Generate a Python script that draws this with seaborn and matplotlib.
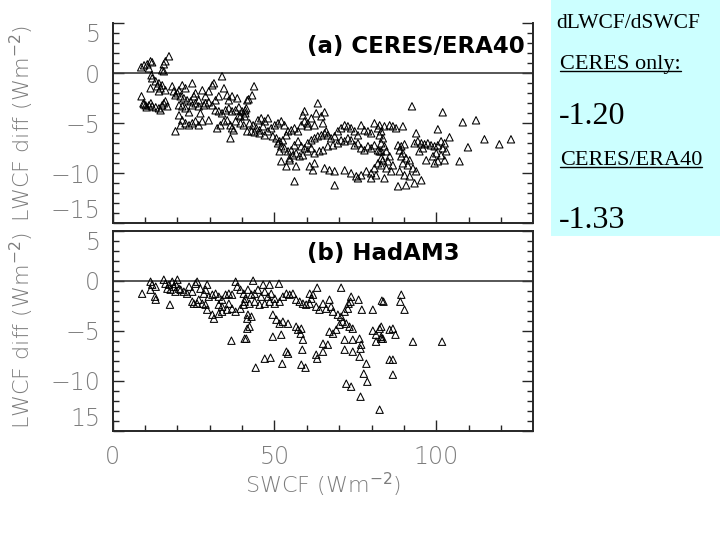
import matplotlib
matplotlib.use('Agg')
import pandas as pd
import seaborn as sns
import matplotlib.pyplot as plt
import matplotlib.lines as mlines
import matplotlib.patches as mpatches
from matplotlib.ticker import MultipleLocator, FixedLocator

# (SWCF, LWCF diff) pairs, Wm-2
era40_points = [
    (8.8, 0.6), (9.7, 0.8), (10.7, 0.9), (11.7, 1.2), (12.2, 1.1), (11.2, 0.5), (15.8, 0.9), (16.3, 1.2),
    (17.4, 1.7), (15.3, 0.3), (15.8, 0.2), (12.2, -0.5), (12.0, -0.2), (13.3, -0.8), (14.3, -1.0), (11.7, -1.5),
    (13.8, -1.3), (14.8, -1.5), (15.3, -1.2), (16.3, -1.7), (14.3, -1.8), (8.9, -2.3), (9.7, -3.1), (10.2, -3.2),
    (11.2, -3.2), (12.2, -3.3), (13.3, -3.4), (14.3, -3.5), (14.8, -3.7), (15.3, -3.2), (15.8, -3.0), (16.3, -2.8),
    (16.9, -3.3), (9.5, -3.0), (10.5, -3.4), (11.8, -3.0), (18.4, -1.3), (18.9, -1.8), (19.4, -2.2), (20.0, -2.0),
    (20.5, -1.7), (21.5, -1.2), (22.5, -1.5), (24.6, -1.0), (21.0, -2.3), (22.0, -2.5), (23.0, -2.7), (24.1, -2.8),
    (25.6, -2.0), (25.1, -2.3), (26.6, -2.7), (27.7, -1.7), (28.7, -2.3), (29.7, -1.8), (30.8, -1.2), (31.3, -1.0),
    (33.8, -0.3), (34.4, -1.5), (32.8, -2.3), (31.8, -2.7), (35.4, -2.2), (35.9, -2.7), (36.9, -2.3), (38.5, -2.5),
    (41.6, -2.7), (20.5, -3.2), (21.5, -3.3), (22.5, -3.5), (23.6, -3.9), (24.6, -3.2), (25.6, -3.0), (26.6, -3.3),
    (27.1, -4.0), (28.2, -3.2), (28.7, -3.0), (29.7, -2.9), (30.8, -3.2), (31.8, -3.7), (32.8, -3.8), (33.8, -4.0),
    (34.9, -3.7), (35.9, -3.5), (36.9, -3.8), (38.0, -3.7), (39.0, -3.4), (40.0, -3.8), (41.0, -3.7), (20.5, -4.2),
    (21.5, -4.7), (22.5, -5.0), (23.6, -5.2), (24.6, -5.0), (25.6, -4.8), (26.6, -5.2), (27.7, -4.8), (29.7, -4.7),
    (21.0, -5.2), (19.4, -5.8), (32.3, -5.5), (33.3, -5.2), (34.4, -4.8), (35.4, -4.7), (36.4, -5.2), (36.9, -5.5),
    (37.4, -5.7), (36.4, -6.5), (38.0, -4.8), (39.5, -5.0), (40.5, -5.2), (41.6, -5.8), (39.5, -4.3), (39.0, -4.2),
    (41.0, -4.0),
    (43.7, -1.3), (43.1, -2.2), (42.0, -2.6), (41.3, -3.5), (40.8, -4.3), (42.3, -5.0), (43.4, -5.2), (44.4, -5.5),
    (45.4, -5.7), (46.5, -5.3), (47.0, -4.8), (48.0, -4.5), (44.9, -4.7), (45.9, -4.5), (42.9, -5.8), (43.9, -5.9),
    (45.4, -6.0), (47.0, -6.2), (48.0, -5.8), (49.0, -5.5), (50.1, -5.2), (51.1, -5.0), (52.1, -4.8), (53.1, -5.2),
    (49.5, -6.3), (50.6, -6.5), (51.6, -6.8), (52.6, -6.7), (53.7, -6.2), (54.2, -5.8), (55.2, -5.7), (56.2, -5.5),
    (57.3, -5.8), (58.3, -5.2), (59.3, -4.8), (60.3, -5.0), (63.4, -3.0), (59.3, -3.8), (58.8, -4.2), (62.9, -4.0),
    (65.5, -3.9), (64.5, -4.3), (61.4, -4.5), (60.3, -5.3), (62.4, -5.2), (65.0, -5.0), (66.0, -5.8), (51.1, -7.0),
    (52.1, -7.3), (53.1, -7.5), (54.2, -7.8), (55.2, -7.7), (56.2, -7.2), (57.3, -6.8), (58.3, -7.3), (59.3, -7.5),
    (60.3, -7.0), (61.4, -6.7), (62.4, -6.5), (63.4, -6.3), (64.5, -6.2), (65.5, -6.0), (66.5, -6.2), (67.5, -6.5),
    (68.6, -6.3), (69.6, -5.8), (70.6, -5.5), (71.7, -5.2), (72.7, -5.3), (73.7, -5.5), (74.8, -5.8), (75.8, -6.2),
    (76.8, -5.2), (77.8, -5.7), (78.9, -5.8), (79.9, -6.0), (80.9, -5.0), (82.0, -5.5), (83.0, -5.8), (51.6, -7.8),
    (54.7, -8.5), (55.7, -8.2), (56.7, -8.0), (57.8, -8.3), (58.8, -8.2), (60.3, -7.8), (61.4, -7.5), (62.4, -8.0),
    (63.9, -7.8), (65.0, -7.7), (66.5, -7.3), (68.1, -7.2), (69.6, -7.0), (70.6, -6.7), (71.7, -6.8), (72.7, -6.5),
    (73.7, -6.7), (74.8, -7.2), (75.8, -7.0), (76.8, -7.5), (77.8, -7.7), (78.9, -7.3), (79.9, -7.5), (80.9, -7.2),
    (82.0, -7.7), (83.0, -7.8), (52.1, -8.8), (53.7, -9.3), (54.7, -8.7), (56.7, -9.3), (60.9, -9.3), (61.9, -9.7),
    (62.4, -9.0), (65.5, -9.5), (67.0, -9.7), (68.6, -9.8), (71.7, -9.7), (73.7, -10.0), (75.3, -10.3), (76.8, -10.2),
    (78.4, -9.8), (79.9, -10.0), (80.9, -9.5), (82.0, -9.0), (83.0, -8.5), (56.2, -10.8), (68.6, -11.2), (75.8, -10.5),
    (79.9, -10.5), (81.4, -10.2),
    (92.5, -3.3), (102.0, -3.9), (108.2, -4.9), (112.3, -4.7), (100.5, -5.6), (104.1, -6.4), (114.9, -6.6),
    (119.5, -7.1), (123.1, -6.6), (109.8, -7.4), (107.2, -8.8), (82.5, -5.2), (84.0, -5.3), (85.6, -5.2),
    (86.6, -5.3), (87.6, -5.5), (89.7, -5.3), (82.5, -6.2), (83.5, -6.5), (83.0, -7.0), (84.0, -7.3), (82.5, -7.8),
    (84.6, -7.8), (85.6, -8.3), (83.5, -8.7), (85.1, -8.8), (86.6, -9.2), (83.0, -9.2), (84.6, -9.5), (86.1, -9.8),
    (84.0, -10.5), (88.2, -7.2), (89.2, -7.3), (90.2, -7.1), (88.7, -7.7), (89.7, -8.0), (90.7, -8.5), (91.8, -8.7),
    (89.2, -8.3), (89.7, -9.0), (91.2, -9.2), (92.8, -9.5), (93.8, -9.8), (88.7, -9.8), (90.2, -10.2), (91.8, -10.3),
    (88.2, -11.3), (90.7, -11.2), (93.3, -11.0), (95.4, -10.7), (93.8, -6.0), (93.3, -7.0), (94.3, -6.8),
    (95.4, -7.0), (96.4, -7.1), (97.4, -7.0), (98.4, -7.2), (99.5, -7.3), (100.5, -7.2), (101.5, -6.8),
    (102.6, -7.0), (102.0, -7.5), (103.1, -7.8), (101.5, -8.2), (100.0, -8.0), (99.0, -8.3), (96.9, -8.7),
    (99.5, -9.0), (100.5, -8.8), (102.6, -8.7), (94.8, -7.8), (95.9, -7.5),
]

hadam3_points = [
    (9.1, -1.3), (11.7, -0.1), (12.2, -0.4), (13.3, -0.6), (11.7, -0.9), (13.1, -1.6), (13.3, -1.9), (15.8, 0.1),
    (16.3, -0.3), (17.4, -0.4), (18.4, -0.1), (18.9, -0.6), (19.4, -0.3), (20.0, 0.1), (20.5, -0.8), (16.9, -0.8),
    (17.9, -0.9), (19.4, -1.1), (21.0, -0.9), (22.0, -1.1), (23.0, -1.3), (23.6, -0.6), (24.6, -1.1), (25.6, -0.3),
    (26.1, -0.1), (17.7, -2.4), (24.6, -2.1), (25.1, -2.3), (26.1, -2.3), (26.6, -1.9), (27.7, -2.3), (28.7, -2.4),
    (29.2, -2.9), (30.8, -3.4), (31.3, -3.8), (32.8, -3.3), (33.8, -3.1), (27.1, -0.8), (28.2, -1.3), (28.7, -0.9),
    (29.2, -0.4), (29.7, -1.6), (30.8, -1.4), (31.8, -1.3), (32.8, -1.6), (33.8, -1.9), (34.9, -1.4), (35.9, -1.3),
    (36.9, -1.4), (38.0, -0.1), (38.5, -0.6), (39.5, -0.9), (40.5, -1.3), (41.0, -1.8), (32.8, -2.4), (33.8, -2.6),
    (35.4, -2.9), (35.9, -2.3), (36.9, -2.8), (38.0, -3.1), (39.5, -2.8), (40.5, -2.4), (41.6, -3.8), (41.6, -4.8),
    (40.8, -5.8), (36.7, -6.0),
    (43.4, 0.0), (46.5, -0.4), (48.5, -0.4), (51.4, -0.3), (63.2, -0.7), (70.6, -0.7), (41.8, -0.9), (42.9, -1.4),
    (43.9, -1.3), (44.9, -0.9), (45.9, -1.6), (47.0, -1.1), (48.0, -1.6), (49.0, -1.3), (50.1, -1.8), (40.8, -2.1),
    (42.3, -2.3), (43.9, -2.1), (45.4, -2.4), (47.0, -2.3), (48.5, -2.1), (50.1, -2.3), (51.6, -2.1), (52.6, -1.6),
    (53.7, -1.3), (54.7, -1.4), (55.7, -1.3), (56.7, -1.9), (57.8, -2.1), (58.8, -2.3), (59.8, -2.4), (60.9, -2.3),
    (61.4, -1.8), (61.9, -1.4), (60.9, -1.3), (62.9, -2.6), (63.9, -2.9), (65.0, -2.3), (66.0, -2.8), (67.0, -1.9),
    (67.5, -2.6), (68.1, -3.1), (69.6, -3.4), (70.6, -3.6), (71.7, -3.1), (72.7, -2.8), (73.7, -1.6), (73.5, -2.1),
    (72.9, -2.3), (76.0, -1.9), (77.0, -2.9), (80.4, -2.9), (83.2, -2.0), (41.8, -3.4), (42.9, -3.6), (42.3, -4.6),
    (41.3, -5.8), (49.5, -3.4), (50.6, -3.9), (51.6, -4.3), (52.6, -4.1), (49.5, -5.6), (52.1, -5.4), (54.2, -4.3),
    (56.7, -4.6), (58.3, -4.8), (57.3, -4.9), (58.1, -5.3), (58.8, -5.9), (58.6, -6.9), (62.9, -7.4), (63.2, -7.8),
    (65.0, -7.1), (66.5, -6.4), (65.0, -6.3), (67.0, -5.1), (68.1, -5.3), (69.1, -4.9), (70.1, -4.4), (71.1, -4.1),
    (72.2, -4.3), (73.2, -4.6), (74.2, -4.8), (71.7, -5.9), (74.2, -5.9), (76.3, -5.8), (71.7, -6.9), (74.2, -7.1),
    (76.6, -6.8), (76.8, -6.4), (76.3, -7.6), (78.4, -8.3), (77.6, -9.3), (78.7, -10.1), (72.2, -10.3), (73.7, -10.6),
    (76.6, -11.6), (82.5, -12.9), (53.7, -7.1), (54.2, -7.3), (47.0, -7.8), (48.8, -7.7), (44.2, -8.7), (52.4, -8.3),
    (58.3, -8.4), (59.6, -8.7), (80.4, -5.0), (81.4, -5.4), (82.5, -4.8), (83.0, -5.8), (81.4, -6.1),
    (83.7, -2.1), (89.2, -1.4), (88.9, -2.1), (90.2, -2.9), (83.0, -4.6), (85.6, -4.9), (86.6, -4.8), (87.4, -5.4),
    (83.5, -5.8), (83.0, -5.6), (92.8, -6.1), (101.8, -6.1), (85.6, -7.9), (86.6, -7.9), (86.6, -9.4),
]

panel_titles = ['(a) CERES/ERA40', '(b) HadAM3']
y_ticks = [5, 0, -5, -10, -15]
y_ticklabels_a = ['5', '0', '\u22125', '\u221210', '\u221215']
y_ticklabels_b = ['5', '0', '\u22125', '\u221210', '15']
x_ticks = [0, 50, 100]
x_ticklabels = ['0', '50', '100']
box_lines = ['dLWCF/dSWCF', 'CERES only:', '-1.20', 'CERES/ERA40', '-1.33']

sns.set_theme(style='white')
plt.rcParams['font.family'] = ['DejaVu Sans']
plt.rcParams['mathtext.fontset'] = 'dejavusans'

W, H = 720, 540
fig = plt.figure(figsize=(7.2, 5.4), dpi=100)
ax_a = fig.add_axes([112.7 / W, 1 - 223.3 / H, 420.6 / W, 200 / H])
ax_b = fig.add_axes([112.7 / W, 1 - 430.7 / H, 420.6 / W, 200 / H])

gray = '#7d7d7d'
spine_col = '#262626'

for ax, pts, title, ylabs in [(ax_a, era40_points, panel_titles[0], y_ticklabels_a),
                              (ax_b, hadam3_points, panel_titles[1], y_ticklabels_b)]:
    df = pd.DataFrame(pts, columns=['SWCF', 'LWCF'])
    ax.axhline(0, color='#3a3a3a', lw=1.2, zorder=1)
    sns.scatterplot(data=df, x='SWCF', y='LWCF', marker='^', s=28, facecolor='none',
                    edgecolor='black', linewidth=0.75, ax=ax, legend=False, zorder=3)
    ax.set(xlim=(0, 130), ylim=(-15, 5))
    ax.set_yticks(y_ticks)
    ax.set_yticklabels(ylabs)
    ax.yaxis.set_minor_locator(MultipleLocator(1))
    ax.set_xticks(x_ticks)
    ax.xaxis.set_minor_locator(FixedLocator([v for v in range(10, 130, 10) if v not in x_ticks]))
    ax.tick_params(which='both', direction='in', left=True, right=True, bottom=True, top=False,
                   color=spine_col, width=1.0, labelcolor=gray, labelsize=17)
    ax.tick_params(which='major', length=8, pad=9)
    ax.tick_params(which='minor', length=4.5)
    for lab in ax.get_yticklabels() + ax.get_xticklabels():
        lab.set_fontweight(200)
    # end labels sit inside the panel height, as in the scanned figure
    ylab_objs = ax.get_yticklabels()
    ylab_objs[0].set_va('top')
    ylab_objs[-1].set_va('bottom')
    for side in ['left', 'right', 'bottom', 'top']:
        ax.spines[side].set_color(spine_col)
        ax.spines[side].set_linewidth(1.4)
    ax.set_ylabel('LWCF diff (Wm$^{-2}$)', fontsize=16, color=gray, fontweight=200)
    ax.yaxis.set_label_coords(-0.182, 0.5)
    ax.text(0.463, 0.886, title, transform=ax.transAxes, fontsize=16.5, fontweight='bold',
            ha='left', va='center', color='black')
    ax.grid(False)

ax_a.spines['top'].set_visible(False)
ax_a.set_xlabel('')
ax_a.set_xticklabels([])
ax_b.set_xticklabels(x_ticklabels)
for lab in ax_b.get_xticklabels():
    lab.set_fontweight(200)
ax_b.tick_params(axis='x', pad=10)
ax_b.set_xlabel('SWCF (Wm$^{-2}$)', fontsize=16, color=gray, fontweight=200)
ax_b.xaxis.label.set_va('center')
ax_b.xaxis.set_label_coords(0.5, -0.27)

# cyan note box on the right
fig.patches.append(mpatches.Rectangle((551 / W, 1 - 236 / H), (W - 551) / W, 236 / H,
                                      transform=fig.transFigure, facecolor='#ccffff',
                                      edgecolor='none', zorder=0))
serif = ['Liberation Serif', 'DejaVu Serif']
box_specs = [(box_lines[0], 556, 28, 15.5, False),
             (box_lines[1], 560, 68.5, 16, True),
             (box_lines[2], 559, 124, 23, False),
             (box_lines[3], 560, 165, 16, True),
             (box_lines[4], 559, 228, 23, False)]
texts = []
for txt, x, yb, fs, under in box_specs:
    t = fig.text(x / W, 1 - yb / H, txt, family=serif, fontsize=fs, ha='left', va='baseline', color='black')
    texts.append((t, yb, under))

fig.canvas.draw()
for t, yb, under in texts:
    if under:
        bb = t.get_window_extent()
        fig.add_artist(mlines.Line2D([bb.x0 / W, bb.x1 / W], [1 - (yb + 2.5) / H] * 2,
                                     transform=fig.transFigure, color='black', lw=1.0))

fig.savefig('out.png', dpi=100)
